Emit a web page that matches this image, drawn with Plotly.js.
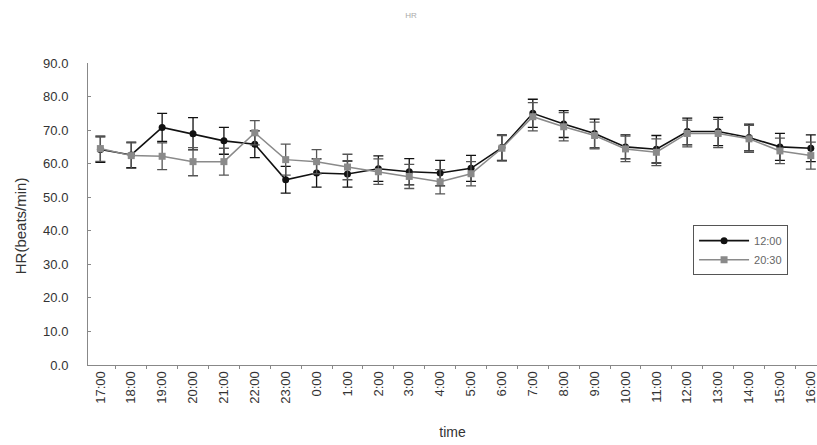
<!DOCTYPE html>
<html>
<head>
<meta charset="utf-8">
<script src="https://cdn.plot.ly/plotly-3.0.1.min.js"></script>
<style>html,body{margin:0;padding:0;background:#fff;}#chart{width:817px;height:445px;}</style>
</head>
<body>
<div id="chart"></div>
<script>
const times = ["17:00","18:00","19:00","20:00","21:00","22:00","23:00","0:00","1:00","2:00","3:00","4:00","5:00","6:00","7:00","8:00","9:00","10:00","11:00","12:00","13:00","14:00","15:00","16:00"];
const series1Name = "12:00";
const series2Name = "20:30";
const series1 = [64.2, 62.6, 70.8, 68.9, 66.8, 65.8, 55.2, 57.2, 56.9, 58.5, 57.6, 57.2, 58.6, 64.8, 75.0, 71.8, 69.0, 65.0, 64.3, 69.6, 69.6, 67.8, 65.0, 64.6];
const series1Err = [3.8, 3.8, 4.2, 4.8, 4.0, 4.0, 4.0, 4.2, 3.9, 3.8, 3.9, 3.8, 3.9, 3.8, 4.2, 4.0, 4.3, 3.6, 4.1, 4.0, 4.2, 4.0, 4.0, 4.0];
const series2 = [64.5, 62.4, 62.2, 60.6, 60.6, 69.2, 61.2, 60.6, 59.0, 57.6, 56.2, 54.6, 57.0, 64.6, 74.0, 71.0, 68.4, 64.4, 63.4, 69.0, 69.0, 67.4, 63.8, 62.4];
const series2Err = [3.8, 3.8, 4.0, 4.2, 4.0, 3.6, 4.6, 3.6, 3.8, 3.8, 3.6, 3.6, 3.6, 3.8, 4.2, 4.2, 4.0, 3.8, 4.0, 4.0, 4.2, 4.0, 3.8, 4.0];
const yTicks = [0,10,20,30,40,50,60,70,80,90];
const yTickText = yTicks.map(v => v.toFixed(1));

const traces = [
  {
    x: times, y: series1, name: series1Name, type: "scatter", mode: "lines+markers",
    line: {color: "#111111", width: 1.6},
    marker: {color: "#111111", size: 7, symbol: "circle"},
    error_y: {type: "data", array: series1Err, visible: true, color: "#111111", thickness: 1.3, width: 5}
  },
  {
    x: times, y: series2, name: series2Name, type: "scatter", mode: "lines+markers",
    line: {color: "#8a8a8a", width: 1.5},
    marker: {color: "#8a8a8a", size: 7, symbol: "square"},
    error_y: {type: "data", array: series2Err, visible: true, color: "#555555", thickness: 1.3, width: 5}
  }
];

const layout = {
  width: 817, height: 445,
  margin: {l: 88, r: 0, t: 63, b: 80},
  paper_bgcolor: "#ffffff", plot_bgcolor: "#ffffff",
  font: {family: "Liberation Sans, Arial, sans-serif", color: "#333333", size: 12},
  title: {text: "HR", x: 0.503, xanchor: "center", y: 0.965, yanchor: "middle", font: {size: 8, color: "#aaaaaa"}},
  showlegend: true,
  legend: {x: 0.83, y: 0.463, xanchor: "left", yanchor: "top", bgcolor: "#ffffff", bordercolor: "#555555", borderwidth: 1, font: {size: 11, color: "#666666"}, tracegroupgap: 2, itemwidth: 50},
  xaxis: {
    type: "category", range: [-0.4, 23.2],
    tickangle: -90, showgrid: false, zeroline: false,
    showline: true, linecolor: "#888888", linewidth: 1,
    ticks: "outside", ticklen: 3, tickcolor: "#888888", tickson: "boundaries",
    tickfont: {size: 13, color: "#333333"},
    title: {text: "time", font: {size: 14, color: "#333333"}, standoff: 24}
  },
  yaxis: {
    range: [0, 90], tickvals: yTicks, ticktext: yTickText,
    showgrid: false, zeroline: false,
    showline: true, linecolor: "#888888", linewidth: 1,
    ticks: "inside", ticklen: 3, tickcolor: "#888888",
    ticklabelstandoff: 16,
    tickfont: {size: 13, color: "#333333"}
  },
  annotations: [
    {text: "HR(beats/min)", xref: "paper", yref: "paper", x: -0.093, y: 0.46, xanchor: "center", yanchor: "middle",
     textangle: -90, showarrow: false, font: {size: 15, color: "#333333"}}
  ]
};

Plotly.newPlot("chart", traces, layout, {displayModeBar: false, staticPlot: true});
</script>
</body>
</html>
